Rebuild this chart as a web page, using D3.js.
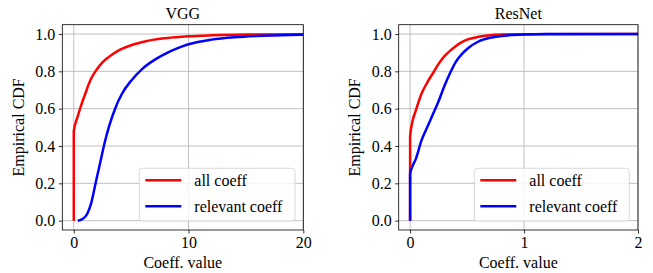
<!DOCTYPE html>
<html><head><meta charset="utf-8">
<script src="https://cdn.jsdelivr.net/npm/d3@7"></script>
<style>
body{margin:0;background:#fff;}
text{font-family:"Liberation Serif","Times New Roman",serif;}
</style></head>
<body><svg id="c" width="653" height="273"></svg>
<script>
const titles = ["VGG", "ResNet"];
const seriesNames = ["all coeff", "relevant coeff"];
const colors = ["#ff0000", "#0000ff"];
const yTicks = [0.0, 0.2, 0.4, 0.6, 0.8, 1.0];
const vggXTicks = [0, 10, 20];
const resXTicks = [0, 1, 2];

const vggAllX = [0,0,0.3,0.6,1.0,1.5,2,2.5,3,4,5,6,7,8,10,12,15,20];
const vggAllY = [0,0.48,0.55,0.61,0.68,0.76,0.81,0.848,0.875,0.915,0.94,0.957,0.97,0.978,0.988,0.993,0.997,0.999];
const vggRelX = [0.35,0.8,1.2,1.5,1.9,2.3,2.7,3.1,3.6,4.2,5,6,7,8,9,10,12,14,16,18,20];
const vggRelY = [0,0.01,0.04,0.09,0.2,0.31,0.42,0.51,0.6,0.68,0.75,0.815,0.86,0.895,0.923,0.945,0.97,0.983,0.99,0.994,0.996];
const resAllX = [0,0,0.02,0.05,0.1,0.15,0.2,0.25,0.3,0.35,0.4,0.45,0.5,0.6,0.7,0.8,1.0,2];
const resAllY = [0,0.45,0.53,0.59,0.68,0.74,0.79,0.84,0.88,0.91,0.935,0.955,0.97,0.985,0.993,0.997,0.999,1.0];
const resRelX = [0,0,0.02,0.05,0.1,0.15,0.2,0.25,0.3,0.35,0.4,0.45,0.5,0.6,0.7,0.8,0.9,1.0,1.2,2];
const resRelY = [0,0.25,0.29,0.33,0.43,0.5,0.57,0.64,0.72,0.79,0.85,0.89,0.92,0.96,0.98,0.99,0.995,0.998,1.0,1.0];

const zip = (xs, ys) => xs.map((x, i) => ({x, y: ys[i]}));

const panels = [
  {title: titles[0], left: 62.3, right: 303.3, xdom: [-1, 20], xt: vggXTicks,
   series: [zip(vggAllX, vggAllY), zip(vggRelX, vggRelY)], ylabX: 23.5,
   legend: {x: 139.3, y: 168.3, w: 155.7, h: 52.7}},
  {title: titles[1], left: 398.7, right: 638, xdom: [-0.1, 2], xt: resXTicks,
   series: [zip(resAllX, resAllY), zip(resRelX, resRelY)], ylabX: 360,
   legend: {x: 474.3, y: 168.3, w: 155, h: 52.7}}
];
const plotTop = 24.7, plotBottom = 230;
const svg = d3.select("#c");

panels.forEach((p, pi) => {
  const x = d3.scaleLinear().domain(p.xdom).range([p.left, p.right]);
  const y = d3.scaleLinear().domain([-0.05, 1.05]).range([plotBottom, plotTop]);
  const g = svg.append("g");
  g.selectAll(".gx").data(p.xt).join("line")
    .attr("x1", d => x(d)).attr("x2", d => x(d)).attr("y1", plotTop).attr("y2", plotBottom)
    .attr("stroke", "#b0b0b0").attr("stroke-width", 0.8);
  g.selectAll(".gy").data(yTicks).join("line")
    .attr("y1", d => y(d)).attr("y2", d => y(d)).attr("x1", p.left).attr("x2", p.right)
    .attr("stroke", "#b0b0b0").attr("stroke-width", 0.8);
  const cid = "clip" + pi;
  svg.append("clipPath").attr("id", cid).append("rect")
    .attr("x", p.left).attr("y", plotTop).attr("width", p.right - p.left).attr("height", plotBottom - plotTop);
  const line = d3.line().curve(d3.curveMonotoneX).x(d => x(d.x)).y(d => y(d.y));
  p.series.forEach((s, si) => {
    g.append("path").datum(s).attr("d", line).attr("fill", "none")
      .attr("stroke", colors[si]).attr("stroke-width", 2.5)
      .attr("stroke-linejoin", "round").attr("clip-path", `url(#${cid})`);
  });
  const xa = g.append("g").attr("transform", `translate(0,${plotBottom})`)
    .call(d3.axisBottom(x).tickValues(p.xt).tickSize(3.5).tickPadding(3.5).tickFormat(d3.format("d")));
  const ya = g.append("g").attr("transform", `translate(${p.left},0)`)
    .call(d3.axisLeft(y).tickValues(yTicks).tickSize(3.5).tickPadding(3.5).tickFormat(d3.format(".1f")));
  [xa, ya].forEach(a => {
    a.attr("font-family", null);
    a.select(".domain").remove();
    a.selectAll("line").attr("stroke", "#000").attr("stroke-width", 0.8);
    a.selectAll("text").attr("font-size", 16).attr("fill", "#000")
      .style("font-family", '"Liberation Serif", serif');
  });
  g.append("rect").attr("x", p.left).attr("y", plotTop).attr("width", p.right - p.left)
    .attr("height", plotBottom - plotTop).attr("fill", "none").attr("stroke", "#000").attr("stroke-width", 0.8);
  g.append("text").attr("x", (p.left + p.right) / 2).attr("y", 19).attr("text-anchor", "middle")
    .attr("font-size", 16).text(p.title);
  g.append("text").attr("x", (p.left + p.right) / 2).attr("y", 268).attr("text-anchor", "middle")
    .attr("font-size", 16).text("Coeff. value");
  g.append("text").attr("transform", `translate(${p.ylabX},${(plotTop + plotBottom) / 2}) rotate(-90)`)
    .attr("text-anchor", "middle").attr("font-size", 16).text("Empirical CDF");
  const L = p.legend;
  g.append("rect").attr("x", L.x).attr("y", L.y).attr("width", L.w).attr("height", L.h)
    .attr("rx", 3).attr("fill", "#fff").attr("fill-opacity", 0.8)
    .attr("stroke", "#d0d0d0").attr("stroke-width", 0.8);
  seriesNames.forEach((n, i) => {
    const ly = L.y + 12 + i * 26;
    g.append("line").attr("x1", L.x + 6).attr("x2", L.x + 42).attr("y1", ly).attr("y2", ly)
      .attr("stroke", colors[i]).attr("stroke-width", 2.5);
    g.append("text").attr("x", L.x + 55).attr("y", ly + 5.5).attr("font-size", 16).text(n);
  });
});
</script></body></html>
